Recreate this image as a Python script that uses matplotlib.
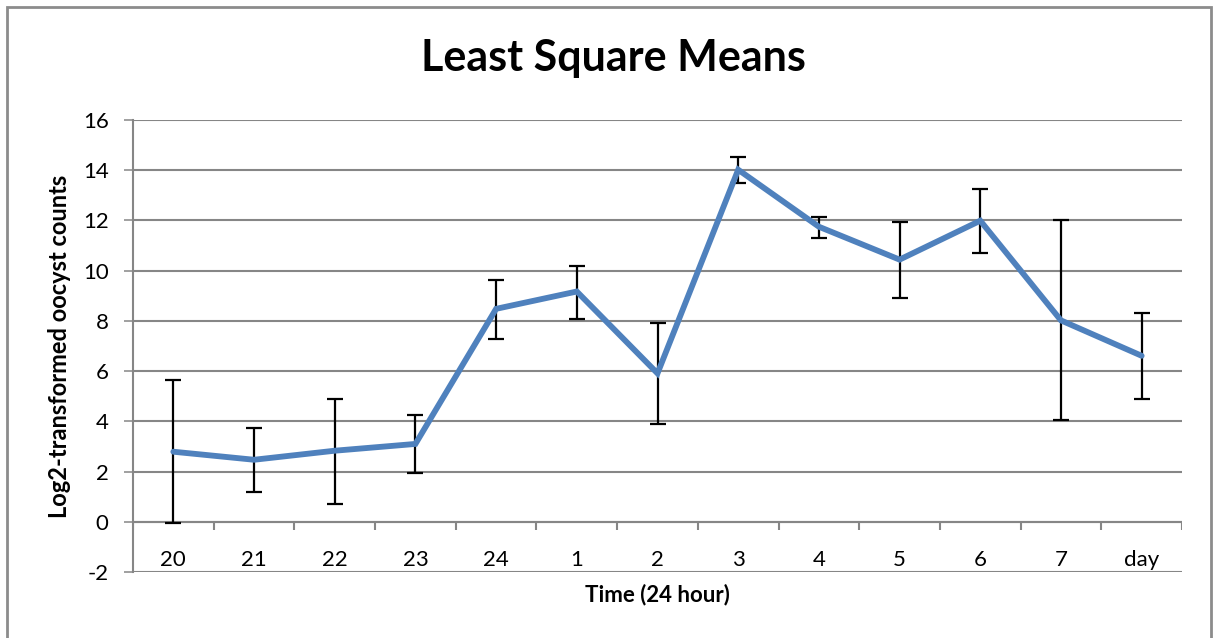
import matplotlib
matplotlib.use("Agg")
import matplotlib.pyplot as plt
import numpy as np
from matplotlib.patches import Rectangle

categories = ["20", "21", "22", "23", "24", "1", "2", "3", "4", "5", "6", "7", "day"]
means = [2.79, 2.47, 2.83, 3.10, 8.48, 9.17, 5.91, 14.02, 11.75, 10.44, 11.99, 8.02, 6.61]
upper = [5.66, 3.75, 4.90, 4.26, 9.64, 10.18, 7.90, 14.54, 12.15, 11.94, 13.27, 12.00, 8.33]
lower = [-0.04, 1.20, 0.72, 1.95, 7.28, 8.06, 3.90, 13.50, 11.31, 8.92, 10.72, 4.06, 4.90]
yticks = [-2, 0, 2, 4, 6, 8, 10, 12, 14, 16]

plt.rcParams['font.family'] = ['Lato', 'DejaVu Sans']
plt.rcParams['axes.unicode_minus'] = False

W, H = 1213, 638
fig = plt.figure(figsize=(W / 100, H / 100), dpi=100)
ax = fig.add_axes([133 / W, 1 - 572 / H, (1182 - 133) / W, (572 - 120) / H])

grid_c = "#868686"
x = np.arange(len(categories))
m = np.array(means)
err = [m - np.array(lower), np.array(upper) - m]

ax.set_xlim(-0.5, len(categories) - 0.5)
ax.set_ylim(-2, 16)
ax.set_yticks(yticks)
for yv in yticks:
    ax.axhline(yv, color=grid_c, lw=1.5, zorder=1)

# category axis at zero with tick marks between categories
ax.axhline(0, color=grid_c, lw=1.5, zorder=1)
bounds = np.arange(len(categories) + 1) - 0.5
ax.vlines(bounds, -0.32, 0, color=grid_c, lw=1.5, zorder=1)

ax.errorbar(x, m, yerr=err, fmt='none', ecolor='black', elinewidth=1.6,
            capsize=5.5, capthick=1.6, zorder=3)
ax.plot(x, m, color="#4F81BD", lw=4.2, zorder=4, solid_capstyle='round',
        solid_joinstyle='miter')

ax.set_xticks(x)
ax.set_xticklabels(categories, fontsize=16)
ax.tick_params(axis='x', length=0, pad=-16)
ax.tick_params(axis='y', direction='out', length=6.5, width=1.1, color=grid_c,
               labelsize=16, pad=11)

for s in ['top', 'right', 'bottom']:
    ax.spines[s].set_visible(False)
ax.spines['left'].set_color(grid_c)
ax.spines['left'].set_linewidth(1.5)

ax.set_ylabel("Log2-transformed oocyst counts", fontsize=17, fontweight='bold',
              va='center')
ax.yaxis.set_label_coords(-(133 - 60) / (1182 - 133), 0.5)
ax.set_xlabel("Time (24 hour)", fontsize=16, fontweight='bold', va='center')
ax.xaxis.set_label_coords(0.5, -(595 - 572) / (572 - 120))

fig.text(613 / W, 1 - 58 / H, "Least Square Means", fontsize=31, fontweight='bold',
         ha='center', va='center')

fig.patches.append(Rectangle((7 / W, -0.01), (1211 - 7) / W, 1 - 7 / H + 0.01,
                             transform=fig.transFigure, fill=False,
                             edgecolor="#8c8c8c", lw=2))

fig.savefig("out.png", dpi=100)
